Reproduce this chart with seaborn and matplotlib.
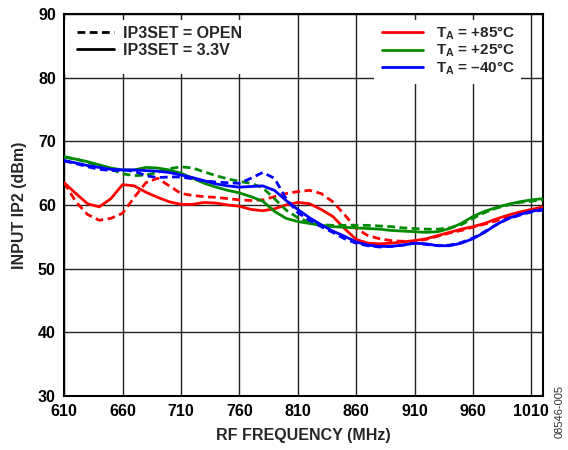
import matplotlib
matplotlib.use("Agg")
import matplotlib.pyplot as plt
from matplotlib.lines import Line2D
from matplotlib.patches import Rectangle
import numpy as np
import pandas as pd
import seaborn as sns

# RF frequency grid (MHz)
freq = [610, 620, 630, 640, 650, 660, 670, 680, 690, 700,
        710, 720, 730, 740, 750, 760, 770, 780, 790, 800,
        810, 820, 830, 840, 850, 860, 870, 880, 890, 900,
        910, 920, 930, 940, 950, 960, 970, 980, 990, 1000,
        1010, 1020]

# Input IP2 (dBm), IP3SET = 3.3V
ip2_85_33 = [63.5, 61.8, 60.2, 59.7, 61.0, 63.2, 63.0, 62.0, 61.2, 60.5,
             60.1, 60.1, 60.4, 60.3, 60.0, 59.8, 59.3, 59.1, 59.4, 60.0,
             60.4, 60.2, 59.3, 58.2, 56.3, 54.6, 54.0, 53.9, 54.0, 54.2,
             54.4, 54.7, 55.2, 55.7, 56.2, 56.6, 57.1, 57.8, 58.4, 58.9,
             59.3, 59.7]
ip2_25_33 = [67.5, 67.2, 66.8, 66.3, 65.8, 65.5, 65.5, 65.9, 65.8, 65.5,
             65.0, 64.2, 63.4, 62.8, 62.3, 61.9, 61.3, 60.6, 59.0, 57.9,
             57.4, 57.1, 56.8, 56.6, 56.5, 56.4, 56.3, 56.2, 56.0, 55.9,
             55.8, 55.7, 55.8, 56.3, 57.1, 58.2, 59.0, 59.6, 60.1, 60.5,
             60.8, 61.0]
ip2_m40_33 = [67.0, 66.6, 66.2, 65.9, 65.6, 65.5, 65.5, 65.4, 65.3, 65.1,
              64.7, 64.3, 63.8, 63.3, 63.0, 62.8, 62.9, 63.0, 62.3, 60.7,
              59.3, 58.0, 56.9, 55.9, 55.1, 54.2, 53.7, 53.5, 53.5, 53.7,
              54.0, 53.9, 53.6, 53.6, 54.0, 54.7, 55.7, 56.9, 57.9, 58.5,
              59.0, 59.3]

# Input IP2 (dBm), IP3SET = OPEN
ip2_85_open = [63.5, 60.5, 58.5, 57.6, 57.9, 58.7, 61.2, 63.5, 64.2, 63.0,
               61.8, 61.5, 61.3, 61.2, 61.0, 60.8, 60.7, 60.8, 61.3, 61.8,
               62.1, 62.3, 61.8, 60.5, 58.5, 56.3, 55.2, 54.7, 54.4, 54.3,
               54.3, 54.6, 55.1, 55.6, 56.0, 56.5, 57.0, 57.5, 58.1, 58.6,
               59.1, 59.6]
ip2_25_open = [67.6, 67.2, 66.7, 66.2, 65.6, 64.9, 64.6, 64.7, 65.1, 65.7,
               66.0, 65.8, 65.2, 64.6, 64.1, 63.7, 63.4, 62.7, 61.0, 59.2,
               58.0, 57.3, 56.9, 56.8, 56.8, 56.8, 56.8, 56.7, 56.6, 56.4,
               56.3, 56.2, 56.2, 56.4, 56.9, 57.9, 58.8, 59.5, 60.0, 60.4,
               60.6, 60.8]
ip2_m40_open = [66.9, 66.5, 66.0, 65.6, 65.4, 65.5, 65.3, 64.6, 64.3, 64.4,
                64.4, 64.1, 63.8, 63.6, 63.5, 63.4, 64.2, 65.1, 64.2, 61.0,
                58.8, 57.6, 56.6, 55.7, 54.7, 54.0, 53.6, 53.4, 53.5, 53.7,
                54.0, 53.8, 53.6, 53.7, 54.1, 54.8, 55.8, 56.9, 57.8, 58.4,
                58.9, 59.2]

temp_labels = ["+85°C", "+25°C", "–40°C"]
mode_labels = ["OPEN", "3.3V"]
x_ticks = [610, 660, 710, 760, 810, 860, 910, 960, 1010]
y_ticks = [30, 40, 50, 60, 70, 80, 90]

series = {
    ("+85°C", "OPEN"): ip2_85_open,
    ("+25°C", "OPEN"): ip2_25_open,
    ("–40°C", "OPEN"): ip2_m40_open,
    ("+85°C", "3.3V"): ip2_85_33,
    ("+25°C", "3.3V"): ip2_25_33,
    ("–40°C", "3.3V"): ip2_m40_33,
}
rows = []
for (t, m), vals in series.items():
    for f, v in zip(freq, vals):
        rows.append({"freq": f, "ip2": v, "temp": t, "mode": m})
df = pd.DataFrame(rows)

sns.set_theme(style="white")
plt.rcParams["font.family"] = ["Liberation Sans", "DejaVu Sans"]
plt.rcParams["font.weight"] = "bold"
plt.rcParams["mathtext.fontset"] = "custom"
plt.rcParams["mathtext.rm"] = "Liberation Sans:bold"
plt.rcParams["mathtext.bf"] = "Liberation Sans:bold"
plt.rcParams["mathtext.it"] = "Liberation Sans:bold"

palette = {"+85°C": "#ff0000", "+25°C": "#008a00", "–40°C": "#0000ff"}
dash_map = {"OPEN": (2.8, 1.6), "3.3V": ""}
LW = 2.0

fig = plt.figure(figsize=(5.68, 4.5), dpi=100)
ax = fig.add_axes([0.113, 0.12, 0.843, 0.849])

sns.lineplot(data=df, x="freq", y="ip2", hue="temp", style="mode",
             hue_order=temp_labels, style_order=mode_labels,
             palette=palette, dashes=dash_map, linewidth=LW,
             legend=False, ax=ax, zorder=3)

ax.set_xlim(610, 1020)
ax.set_ylim(30, 90)
ax.set_xticks(x_ticks)
ax.set_yticks(y_ticks)
ax.tick_params(axis="both", length=0, pad=6, labelsize=11.5, colors="black")
for lab in ax.get_xticklabels() + ax.get_yticklabels():
    lab.set_fontweight("bold")

ax.set_axisbelow(True)
ax.grid(True, color="#222222", linewidth=1.0)
for sp in ax.spines.values():
    sp.set_visible(True)
    sp.set_color("black")
    sp.set_linewidth(1.5)

ax.set_xlabel("RF FREQUENCY (MHz)", fontsize=11.5, fontweight="bold", labelpad=6)
ax.set_ylabel("INPUT IP2 (dBm)", fontsize=11.5, fontweight="bold", labelpad=8)

# white panels behind the two legends (grid shows only as short stubs at top)
gap = 6 / 382
ax.add_patch(Rectangle((0, 0.842), 0.484, 1 - 0.842 - gap, transform=ax.transAxes,
                       facecolor="white", edgecolor="none", zorder=1))
ax.add_patch(Rectangle((0.647, 0.817), 0.307, 1 - 0.817 - gap, transform=ax.transAxes,
                       facecolor="white", edgecolor="none", zorder=1))

mode_handles = [Line2D([], [], color="black", lw=LW, dashes=(2.8, 1.6)),
                Line2D([], [], color="black", lw=LW)]
leg1 = ax.legend(mode_handles, ["IP3SET = OPEN", "IP3SET = 3.3V"],
                 loc="upper left", bbox_to_anchor=(0.027, 0.969),
                 frameon=False, borderpad=0, borderaxespad=0,
                 handlelength=2.3, handletextpad=0.55, labelspacing=0.12,
                 prop={"size": 11.5, "weight": "bold"})
ax.add_artist(leg1)

temp_handles = [Line2D([], [], color=palette[t], lw=LW) for t in temp_labels]
temp_texts = [r"$\mathbf{T_A}$ = " + t for t in temp_labels]
ax.legend(temp_handles, temp_texts,
          loc="upper left", bbox_to_anchor=(0.664, 0.972),
          frameon=False, borderpad=0, borderaxespad=0,
          handlelength=2.7, handletextpad=0.8, labelspacing=0.0,
          prop={"size": 11, "weight": "bold"})

fig.text(0.985, 0.085, "08546-005", rotation=90, ha="center", va="center",
         fontsize=8, fontweight="normal", color="#333333")

fig.savefig("out.png", dpi=100)
